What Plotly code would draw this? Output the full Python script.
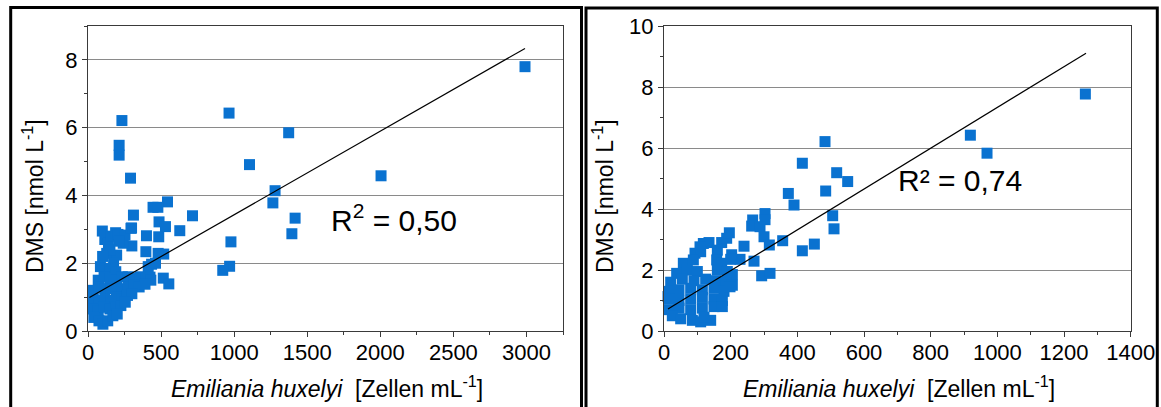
import plotly.graph_objects as go

# ---------------- data ----------------
# Left panel: Emiliania huxelyi [cells/mL] vs DMS [nmol/L]
left_x = [
    2990, 965, 1373, 1105, 2005, 1280, 1265, 1417, 1395, 978, 969, 922,
    232, 213, 213, 291, 544, 445, 478, 715, 311, 486, 530, 628, 484, 400,
    298, 300, 396, 518, 480, 412, 435, 462, 515, 553, 424,
    98, 115, 140, 128, 160, 189, 205, 196, 241, 253, 294, 150, 215, 100, 175,
    85, 115, 150, 190,
    70, 110, 150, 195, 235, 275, 315, 355, 395, 430,
    35, 75, 115, 155, 195, 235, 275, 315, 350, 390,
    35, 75, 115, 155, 195, 235, 270, 300,
    35, 70, 110, 150, 190, 225, 255,
    40, 75, 102, 135, 170, 200,
]
left_y = [
    7.80, 6.43, 5.85, 4.91, 4.58, 4.14, 3.78, 3.33, 2.87, 2.63, 1.91, 1.79,
    6.21, 5.48, 5.19, 4.51, 3.81, 3.65, 3.65, 3.40, 3.42, 3.22, 3.08, 2.96, 2.78, 2.81,
    3.04, 2.51, 2.34, 2.27, 2.29, 1.90, 1.97, 2.00, 1.56, 1.39, 1.59,
    2.95, 2.70, 2.59, 2.29, 2.80, 2.90, 2.85, 2.24, 2.59, 2.83, 3.03, 2.40, 2.65, 2.20, 2.00,
    1.90, 1.85, 1.80, 1.75,
    1.50, 1.60, 1.55, 1.50, 1.60, 1.60, 1.55, 1.60, 1.55, 1.50,
    1.20, 1.30, 1.25, 1.25, 1.30, 1.25, 1.30, 1.35, 1.30, 1.38,
    0.95, 0.90, 0.95, 0.90, 1.00, 0.95, 1.05, 1.10,
    0.65, 0.60, 0.70, 0.65, 0.70, 0.75, 0.85,
    0.40, 0.30, 0.20, 0.30, 0.45, 0.50,
]

# Right panel
right_x = [
    1264, 919, 969, 483, 415, 518, 551, 485, 373, 390, 506, 510, 451, 415, 356,
    303, 303, 266, 263, 288, 300, 316, 240, 270, 293, 318, 228,
    12,
    118, 135, 173, 188, 196,
    93, 108, 110, 203, 160,
    58, 88, 158, 173, 200,
    38, 70, 100, 160, 190, 205,
    20, 55, 90, 125, 155, 185, 205,
    15, 45, 80, 115, 150, 180, 198,
    15, 45, 80, 115, 150, 175,
    15, 45, 80, 115, 150, 175,
    25, 50, 85, 110, 140, 120,
]
right_y = [
    7.77, 6.42, 5.83, 6.21, 5.50, 5.19, 4.90, 4.59, 4.51, 4.13, 3.78, 3.35, 2.85, 2.63, 2.96,
    3.85, 3.65, 3.64, 3.44, 3.42, 3.09, 2.82, 2.78, 2.29, 1.81, 1.89, 2.35,
    1.13,
    2.87, 2.90, 2.90, 3.04, 3.22,
    2.55, 2.76, 2.60, 2.50, 2.65,
    2.22, 2.33, 2.33, 2.22, 2.35,
    1.89, 2.00, 1.95, 2.00, 1.95, 1.85,
    1.60, 1.70, 1.65, 1.70, 1.65, 1.60, 1.50,
    1.30, 1.35, 1.40, 1.35, 1.40, 1.30, 1.45,
    1.05, 1.00, 1.05, 1.10, 1.05, 1.00,
    0.70, 0.75, 0.70, 0.75, 0.80, 0.80,
    0.50, 0.40, 0.35, 0.30, 0.35, 0.45,
]

# Linear trend lines (x extent, slope, intercept)
left_trend_x = [10, 2990]
left_slope, left_intercept = 0.002466, 0.965
right_trend_x = [12, 1266]
right_slope, right_intercept = 0.00669, 0.64

left_r2 = "R<sup>2</sup> = 0,50"
right_r2 = "R² = 0,74"
y_title = "DMS [nmol L<sup>-1</sup>]"
x_title = "<i>Emiliania huxelyi</i>&nbsp; [Zellen mL<sup>-1</sup>]"

# ---------------- figure ----------------
W, H = 1161, 407
FONT = "Arial, Liberation Sans, sans-serif"
BLUE = "#0a72d0"

fig = go.Figure()
fig.add_trace(go.Scatter(x=left_x, y=left_y, mode="markers", xaxis="x", yaxis="y",
                         marker=dict(symbol="square", size=11, color=BLUE, line=dict(width=0)),
                         showlegend=False, cliponaxis=False))
fig.add_trace(go.Scatter(x=left_trend_x, y=[left_intercept + left_slope * v for v in left_trend_x],
                         mode="lines", xaxis="x", yaxis="y",
                         line=dict(color="black", width=1.2), showlegend=False))
fig.add_trace(go.Scatter(x=right_x, y=right_y, mode="markers", xaxis="x2", yaxis="y2",
                         marker=dict(symbol="square", size=11, color=BLUE, line=dict(width=0)),
                         showlegend=False, cliponaxis=False))
fig.add_trace(go.Scatter(x=right_trend_x, y=[right_intercept + right_slope * v for v in right_trend_x],
                         mode="lines", xaxis="x2", yaxis="y2",
                         line=dict(color="black", width=1.2), showlegend=False))

def ax(**kw):
    d = dict(showline=True, linecolor="#3a3a3a", linewidth=1, mirror=True,
             ticks="outside", ticklen=5, tickwidth=1, tickcolor="#3a3a3a",
             tickfont=dict(family=FONT, size=22, color="black"),
             zeroline=False, fixedrange=True, automargin=False)
    d.update(kw)
    return d

def px_x(p):
    return p / W

def px_y(p):
    return 1 - p / H

ydom = [px_y(331), px_y(26)]
TFONT = dict(family=FONT, size=23, color="black")
RFONT = dict(family=FONT, size=30, color="black")
fig.update_layout(
    width=W, height=H, margin=dict(l=0, r=0, t=0, b=0),
    paper_bgcolor="white", plot_bgcolor="white",
    font=dict(family=FONT, color="black"),
    xaxis=ax(domain=[px_x(88), px_x(563)], range=[0, 3250], dtick=500, showgrid=False,
             ticklabelstandoff=-3,
             minor=dict(ticks="outside", ticklen=3, dtick=250, tickcolor="#3a3a3a", showgrid=False)),
    yaxis=ax(domain=ydom, range=[0, 9], dtick=2, showgrid=True, gridcolor="#8a8a8a", gridwidth=1,
             minor=dict(ticks="outside", ticklen=3, dtick=1, tickcolor="#3a3a3a", showgrid=False)),
    xaxis2=ax(domain=[px_x(664), px_x(1130.7)], range=[0, 1400], dtick=200, showgrid=False, anchor="y2",
              ticklabelstandoff=-3,
              minor=dict(ticks="outside", ticklen=3, dtick=100, tickcolor="#3a3a3a", showgrid=False)),
    yaxis2=ax(domain=ydom, range=[0, 10], dtick=2, showgrid=True, gridcolor="#8a8a8a", gridwidth=1,
              anchor="x2",
              minor=dict(ticks="outside", ticklen=3, dtick=1, tickcolor="#3a3a3a", showgrid=False)),
    annotations=[
        dict(x=2092, y=3.33, xref="x", yref="y", text=left_r2, showarrow=False,
             xanchor="center", yanchor="middle", font=RFONT),
        dict(x=888, y=4.95, xref="x2", yref="y2", text=right_r2, showarrow=False,
             xanchor="center", yanchor="middle", font=RFONT),
        # axis titles
        dict(x=px_x(33), y=px_y(196), xref="paper", yref="paper", text=y_title, textangle=-90,
             showarrow=False, xanchor="center", yanchor="middle", font=TFONT),
        dict(x=px_x(603), y=px_y(196), xref="paper", yref="paper", text=y_title, textangle=-90,
             showarrow=False, xanchor="center", yanchor="middle", font=TFONT),
        dict(x=px_x(327), y=px_y(387), xref="paper", yref="paper", text=x_title,
             showarrow=False, xanchor="center", yanchor="middle", font=TFONT),
        dict(x=px_x(899), y=px_y(387), xref="paper", yref="paper", text=x_title,
             showarrow=False, xanchor="center", yanchor="middle", font=TFONT),
    ],
    shapes=[
        dict(type="rect", xref="paper", yref="paper", x0=px_x(10.7), x1=px_x(581.5),
             y0=-0.2, y1=px_y(7.5), line=dict(color="black", width=3), fillcolor="rgba(0,0,0,0)"),
        dict(type="rect", xref="paper", yref="paper", x0=px_x(586), x1=px_x(1157.3),
             y0=-0.2, y1=px_y(8), line=dict(color="black", width=3), fillcolor="rgba(0,0,0,0)"),
    ],
)

fig.write_html("out.html")
